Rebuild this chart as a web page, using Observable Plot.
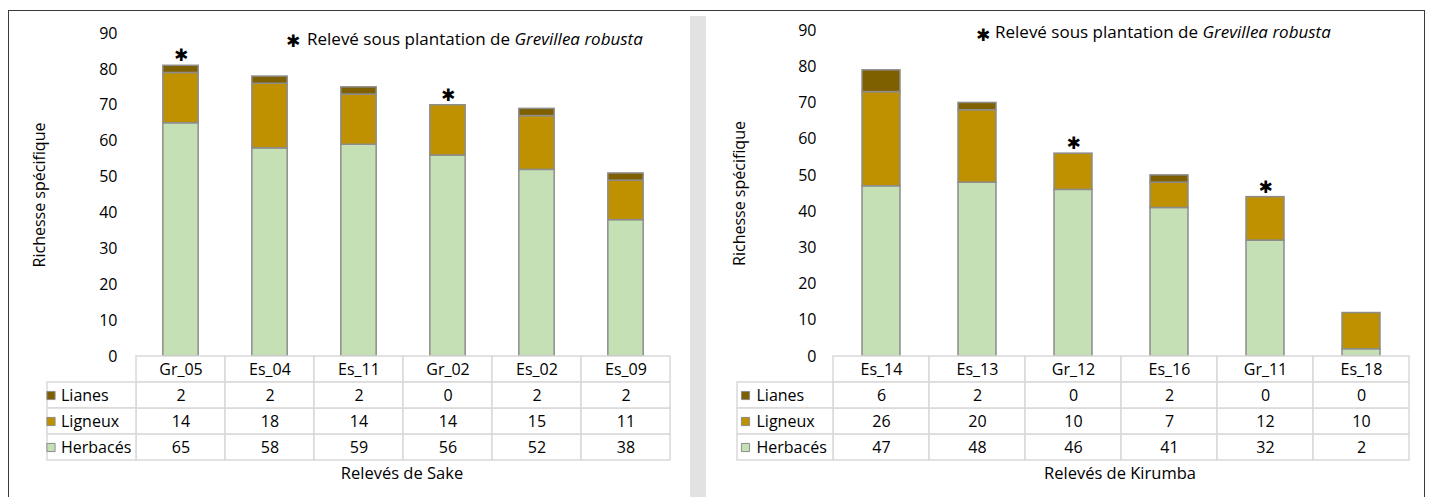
<!DOCTYPE html>
<html><head><meta charset="utf-8">
<script src="https://cdn.jsdelivr.net/npm/d3@7"></script>
<script src="https://cdn.jsdelivr.net/npm/@observablehq/plot@0.6"></script>
<style>
body{margin:0;background:#fff;}
#root{position:relative;width:1429px;height:497px;overflow:hidden;background:#fff;font-family:"Open Sans",sans-serif;}
#root svg{position:absolute;overflow:visible;}
</style></head><body><div id="root"></div>
<script>
// ---------- data ----------
const groups = ["Lianes", "Ligneux", "Herbacés"];
const sakeSites = ["Gr_05", "Es_04", "Es_11", "Gr_02", "Es_02", "Es_09"];
const sakeHerbaces = [65, 58, 59, 56, 52, 38];
const sakeLigneux = [14, 18, 14, 14, 15, 11];
const sakeLianes = [2, 2, 2, 0, 2, 2];
const kirumbaSites = ["Es_14", "Es_13", "Gr_12", "Es_16", "Gr_11", "Es_18"];
const kirumbaHerbaces = [47, 48, 46, 41, 32, 2];
const kirumbaLigneux = [26, 20, 10, 7, 12, 10];
const kirumbaLianes = [6, 2, 0, 2, 0, 0];
const grevilleaSites = ["Gr_05", "Gr_02", "Gr_12", "Gr_11"];
const yTicks = [0, 10, 20, 30, 40, 50, 60, 70, 80, 90];
const yLabel = "Richesse spécifique";
const noteText = "Relevé sous plantation de ";
const noteItalic = "Grevillea robusta";
const colorDomain = ["Herbacés", "Ligneux", "Lianes"];
const colorRange = ["#c5e0b4", "#bf9000", "#7f6000"];

const FONT = '"Open Sans", sans-serif';
const FS = 16;
const STAR_FONT = '"DejaVu Sans", sans-serif';
const root = document.getElementById("root");

// background frame + separator
const frame = document.createElement("div");
Object.assign(frame.style, {position:"absolute", left:"8px", top:"10px", width:"1415px", height:"520px", border:"1.5px solid #3a3a3a"});
root.appendChild(frame);
const sep = document.createElement("div");
Object.assign(sep.style, {position:"absolute", left:"690px", top:"16px", width:"16px", height:"500px", background:"#e2e2e2"});
root.appendChild(sep);

function buildPanel(cfg) {
  const {left, width, x0, x1, y0, y90, tTop, tBottom, sites, herb, lig, lia} = cfg;
  const mL = x0 - left, mR = left + width - x1;
  const rows = [];
  sites.forEach((s, i) => {
    rows.push({site: s, group: "Herbacés", value: herb[i]});
    rows.push({site: s, group: "Ligneux", value: lig[i]});
    rows.push({site: s, group: "Lianes", value: lia[i]});
  });
  const totals = sites.map((s, i) => ({site: s, total: herb[i] + lig[i] + lia[i]}));
  const stars = totals.filter(d => grevilleaSites.includes(d.site));
  const step = (x1 - x0) / sites.length;
  const inset = (step - cfg.barW) / 2;

  const bars = Plot.plot({
    width, height: y0, marginLeft: mL, marginRight: mR, marginTop: y90, marginBottom: 0,
    style: {fontFamily: FONT, fontSize: FS + "px", color: "#000", background: "transparent", overflow: "visible"},
    x: {domain: sites, padding: 0, axis: null},
    y: {domain: [0, 90], ticks: yTicks, tickSize: 0, tickPadding: 17, label: null},
    color: {domain: colorDomain, range: colorRange},
    marks: [
      Plot.barY(rows, Plot.stackY({x: "site", y: "value", fill: "group", stroke: "#8c8c8c", strokeWidth: 1.5,
        insetLeft: inset, insetRight: inset, filter: d => d.value > 0})),
      Plot.text(stars, {x: "site", y: "total", text: () => "✱", fontSize: 17, fontFamily: STAR_FONT, fill: "#000", dy: -10}),
      Plot.text([yLabel], {frameAnchor: "left", text: d => d, rotate: -90, textAnchor: "middle", dx: cfg.labelX - x0, fontSize: FS, fill: "#000"})
    ]
  });
  bars.style.left = left + "px"; bars.style.top = "0px";
  root.appendChild(bars);

  // data table
  const LEG = "__legend";
  const headCells = sites.map(s => ({site: s}));
  const valueCells = rows.map(d => d);
  const table = Plot.plot({
    width, height: tBottom - tTop, marginLeft: mL - step, marginRight: mR, marginTop: 0, marginBottom: 0,
    style: {fontFamily: FONT, fontSize: FS + "px", color: "#000", background: "transparent", overflow: "visible"},
    x: {domain: [LEG, ...sites], padding: 0, axis: null},
    y: {domain: ["head", ...groups], padding: 0, axis: null},
    color: {domain: colorDomain, range: colorRange},
    marks: [
      Plot.cell(headCells, {x: "site", y: () => "head", fill: "#fff", stroke: "#d9d9d9", strokeWidth: 1.5}),
      Plot.cell(valueCells, {x: "site", y: "group", fill: "#fff", stroke: "#d9d9d9", strokeWidth: 1.5}),
      Plot.cell(groups, {x: () => LEG, y: d => d, fill: "#fff", stroke: "#d9d9d9", strokeWidth: 1.5}),
      Plot.text(headCells, {x: "site", y: () => "head", text: "site", fill: "#000", fontSize: FS}),
      Plot.text(valueCells, {x: "site", y: "group", text: d => String(d.value), fill: "#000", fontSize: FS}),
      Plot.dot(groups, {x: () => LEG, y: d => d, symbol: "square", r: 4.6, fill: d => d, stroke: "#8c8c8c", strokeWidth: 1, dx: cfg.swatchDx}),
      Plot.text(groups, {x: () => LEG, y: d => d, text: d => d, textAnchor: "start", dx: cfg.legendDx, fill: "#000", fontSize: FS})
    ]
  });
  table.style.left = left + "px"; table.style.top = tTop + "px";
  root.appendChild(table);
}

buildPanel({left: 0, width: 690, x0: 134, x1: 672, y0: 356, y90: 33, tTop: 356, tBottom: 460,
  barW: 36, labelX: 39, swatchDx: -41, legendDx: -31,
  sites: sakeSites, herb: sakeHerbaces, lig: sakeLigneux, lia: sakeLianes});
buildPanel({left: 706, width: 723, x0: 833, x1: 1409, y0: 356, y90: 30, tTop: 356, tBottom: 460,
  barW: 38, labelX: 739, swatchDx: -40, legendDx: -29,
  sites: kirumbaSites, herb: kirumbaHerbaces, lig: kirumbaLigneux, lia: kirumbaLianes});

// overlay: notes and x titles
const svg = d3.select(root).append("svg").attr("width", 1429).attr("height", 497)
  .style("left", "0px").style("top", "0px").style("pointer-events", "none");
const notes = [{sx: 293, sy: 42, tx: 307, ty: 45}, {sx: 983, sy: 36, tx: 995, ty: 38}];
notes.forEach(n => {
  svg.append("text").attr("x", n.sx).attr("y", n.sy).attr("dy", "0.32em").attr("text-anchor", "middle")
    .attr("font-family", STAR_FONT).attr("font-size", 17).text("✱");
  const t = svg.append("text").attr("x", n.tx).attr("y", n.ty).attr("font-family", FONT).attr("font-size", 17);
  t.append("tspan").text(noteText);
  t.append("tspan").attr("font-style", "italic").text(noteItalic);
});
const xTitles = [{x: 402, y: 479, text: "Relevés de Sake"}, {x: 1120, y: 479, text: "Relevés de Kirumba"}];
xTitles.forEach(d => {
  svg.append("text").attr("x", d.x).attr("y", d.y).attr("text-anchor", "middle")
    .attr("font-family", FONT).attr("font-size", 16.5).text(d.text);
});
</script></body></html>
